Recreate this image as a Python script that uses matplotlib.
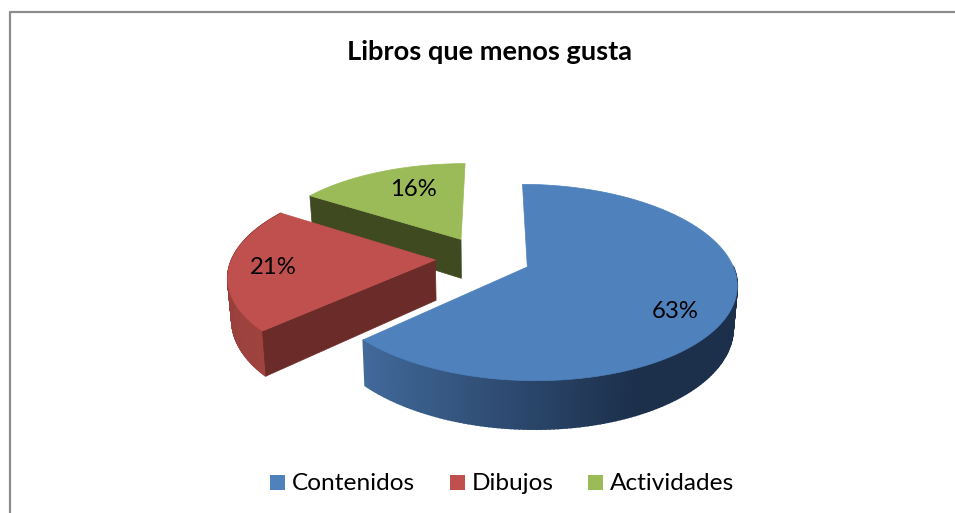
import numpy as np
import matplotlib
matplotlib.use('Agg')
import matplotlib.pyplot as plt
from matplotlib.patches import Polygon, Rectangle
from matplotlib.colors import to_rgb

# Datos del grafico
categorias = ['Contenidos', 'Dibujos', 'Actividades']
porcentajes = [63, 21, 16]
etiquetas = ['63%', '21%', '16%']
titulo = 'Libros que menos gusta'

# Colores: cara superior, corte y lateral (inicio y fin del degradado)
col_top = ['#4f81bd', '#c0504d', '#9bbb59']
col_corte = ['#1f3350', '#6b2b29', '#3f4a20']
col_lado_a = ['#41699a', '#a0433f', '#7f9a49']
col_lado_b = ['#1c2f4b', '#8f3b38', '#6d8540']

# Parametros de la proyeccion en pixeles
X0, Y0 = 483.0, 258.0
ESC_X, ESC_Y = 203.0, 92.9
PERSP = 0.156
EXPLOSION = 0.235
ALTO = 40.2
CONV = 0.016
INICIO = 0.4

fig = plt.figure(figsize=(9.55, 5.13), dpi=100)
ax = fig.add_axes([0, 0, 1, 1])
ax.set_xlim(0, 955)
ax.set_ylim(513, 0)
ax.axis('off')


def proyectar(u, v, z=0.0):
    # z = 0 es la cara superior, z = 1 la base
    d = 1 + PERSP * v
    x = X0 + ESC_X * u / d * (1 - CONV * z)
    y = Y0 - ESC_Y * v / d + ALTO * z / d
    return x, y


def punto(ang, cu, cv, r=1.0):
    t = np.radians(ang)
    return cu + r * np.sin(t), cv + r * np.cos(t)


def cara_corte(ang, cu, cv, color, zo):
    u, v = punto(ang, cu, cv)
    pts = [proyectar(cu, cv), proyectar(u, v), proyectar(u, v, 1), proyectar(cu, cv, 1)]
    ax.add_patch(Polygon(pts, closed=True, fc=color, ec=color, lw=0.5, zorder=zo))


# Angulos de cada porcion a partir de los porcentajes
total = sum(porcentajes)
bordes = INICIO + np.cumsum([0] + porcentajes) * 360.0 / total

# De atras hacia delante: actividades, dibujos, contenidos
for i in [2, 1, 0]:
    a0, a1 = bordes[i], bordes[i + 1]
    medio = np.radians((a0 + a1) / 2)
    cu, cv = EXPLOSION * np.sin(medio), EXPLOSION * np.cos(medio)
    zo = {2: 1, 1: 2, 0: 3}[i]

    # Lateral curvo, con degradado por tramos
    angs = np.linspace(a0, a1, 220)
    for j in range(len(angs) - 1):
        u0, v0 = punto(angs[j], cu, cv)
        u1, v1 = punto(angs[j + 1], cu, cv)
        if v0 > cv and v1 > cv and not i == 1:
            continue
        x_izq = proyectar(u0, v0)[0]
        f = np.clip((x_izq - 364) / (640 - 364), 0, 1) if i == 0 else (j / len(angs))
        c = (1 - f) * np.array(to_rgb(col_lado_a[i])) + f * np.array(to_rgb(col_lado_b[i]))
        pts = [proyectar(u0, v0), proyectar(u1, v1), proyectar(u1, v1, 1), proyectar(u0, v0, 1)]
        ax.add_patch(Polygon(pts, closed=True, fc=c, ec=c, lw=1.2, zorder=zo))

    # Caras del corte que se ven
    if i in (1, 2):
        cara_corte(a0, cu, cv, col_corte[i], zo)

    # Cara superior
    arco = [proyectar(*punto(a, cu, cv)) for a in angs]
    ax.add_patch(Polygon([proyectar(cu, cv)] + arco, closed=True, fc=col_top[i],
                         ec=col_top[i], lw=0.5, zorder=zo + 0.5))

# Etiquetas de porcentaje
pos_etiquetas = [(675, 312), (273, 267.5), (413, 189.5)]
for texto, (x, y) in zip(etiquetas, pos_etiquetas):
    ax.text(x, y, texto, fontsize=17.2, family='Lato', color='black',
            ha='center', va='center', zorder=10)

# Titulo
ax.text(489.5, 52, titulo, fontsize=19.6, family='Lato', fontweight='bold',
        ha='center', va='center', color='black')

# Marco del grafico
ax.plot([9.5, 9.5, 955], [513, 11.5, 11.5], color='#8c8c8c', lw=1.6, solid_capstyle='butt')

# Leyenda
pos_leyenda = [270, 450, 588]
for nombre, color, x in zip(categorias, col_top, pos_leyenda):
    ax.add_patch(Rectangle((x, 475), 15, 15, fc=color, ec='none'))
    ax.text(x + 22, 483, nombre, fontsize=17.6, family='Lato', ha='left', va='center',
            color='black')

fig.savefig('out.png', dpi=100)
